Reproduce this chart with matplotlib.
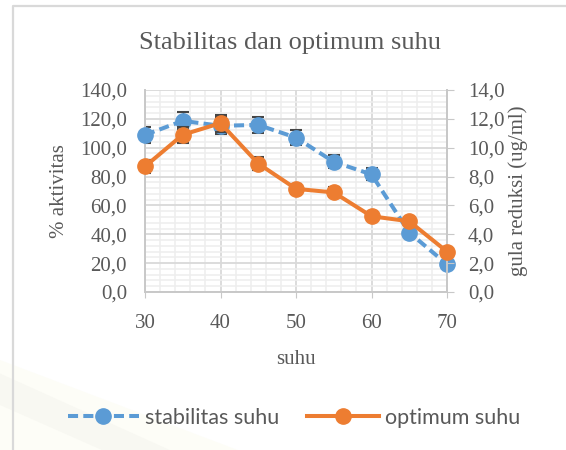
import matplotlib
matplotlib.use("Agg")
import matplotlib.pyplot as plt
from matplotlib.lines import Line2D
from matplotlib.patches import Polygon
from matplotlib.ticker import MultipleLocator, FuncFormatter

# ---- data ----
suhu = [30, 35, 40, 45, 50, 55, 60, 65, 70]
stabilitas = [108.9, 118.6, 115.2, 115.8, 107.0, 90.2, 81.5, 41.2, 19.2]
stabilitas_err = [5.4, 5.9, 5.8, 5.8, 5.4, 4.5, 4.1, 2.1, 1.0]
optimum = [8.7, 10.9, 11.7, 8.9, 7.15, 6.9, 5.25, 4.9, 2.8]
optimum_err = [0.44, 0.55, 0.59, 0.45, 0.36, 0.35, 0.26, 0.25, 0.14]
x_ticks = [30, 40, 50, 60, 70]

title = "Stabilitas dan optimum suhu"
xlabel = "suhu"
ylabel_left = "% aktivitas"
ylabel_right = "gula reduksi (ug/ml)"
legend_labels = ["stabilitas suhu", "optimum suhu"]

BLUE = "#5B9BD5"
ORANGE = "#ED7D31"
TXT = "#595959"
GRID = "#d9d9d9"
MINOR = "#eeeeee"
SERIF = "Liberation Serif"
SANS = "Lato"

W, H = 566, 450
fig = plt.figure(figsize=(W / 100, H / 100), dpi=100)
fig.patch.set_facecolor("white")

# faint watermark streaks in bottom-left
fig.patches.append(Polygon([[0, 0], [0, 0.2], [0.42, 0.0]], closed=True,
                           transform=fig.transFigure, facecolor="#fdfdf7",
                           edgecolor="none", zorder=0))
fig.patches.append(Polygon([[0, 0.1], [0, 0.17], [0.3, 0.0], [0.18, 0.0]], closed=True,
                           transform=fig.transFigure, facecolor="#f8f8f2",
                           edgecolor="none", zorder=0))
# frame
fig.add_artist(Line2D([13 / W, 13 / W, 1.0], [0.0, 1 - 6 / H, 1 - 6 / H],
                      transform=fig.transFigure, color="#d9d9d9", lw=1.6))

ax = fig.add_axes([145 / W, 1 - 292 / H, (447 - 145) / W, (292 - 90) / H])
ax.set_xlim(30, 70)
ax.set_ylim(0, 140)
ax.yaxis.set_major_locator(MultipleLocator(20))
ax.yaxis.set_minor_locator(MultipleLocator(4))
ax.xaxis.set_major_locator(MultipleLocator(10))
ax.xaxis.set_minor_locator(MultipleLocator(2))
ax.set_xticks(x_ticks)
ax.grid(which="major", color=GRID, lw=1.3, zorder=0)
ax.grid(which="minor", color=MINOR, lw=1.1, zorder=0)
ax.set_axisbelow(True)
ax.spines["top"].set_visible(False)
for s in ["left", "bottom", "right"]:
    ax.spines[s].set_color("#c8c8c8")
    ax.spines[s].set_linewidth(1.4)
fmt = FuncFormatter(lambda v, p: f"{v:.1f}".replace(".", ","))
ax.yaxis.set_major_formatter(fmt)
ax.tick_params(axis="y", which="both", length=0, pad=13, labelsize=15, labelcolor=TXT)
ax.tick_params(axis="x", which="major", length=4, color="#c8c8c8", pad=12,
               labelsize=15, labelcolor=TXT)
ax.tick_params(axis="x", which="minor", length=0)
for lab in ax.get_xticklabels() + ax.get_yticklabels():
    lab.set_family(SERIF)

ax2 = ax.twinx()
ax2.set_ylim(0, 14)
ax2.yaxis.set_major_locator(MultipleLocator(2))
ax2.yaxis.set_major_formatter(fmt)
for s in ["top", "left", "bottom"]:
    ax2.spines[s].set_visible(False)
ax2.spines["right"].set_color("#c8c8c8")
ax2.spines["right"].set_linewidth(1.4)
ax2.tick_params(axis="y", length=5, color="#c8c8c8", pad=10, labelsize=15, labelcolor=TXT)
for lab in ax2.get_yticklabels():
    lab.set_family(SERIF)

dash = (0, (2.5, 1.3))
ax.errorbar(suhu, stabilitas, yerr=stabilitas_err, fmt="none", ecolor="#454545",
            elinewidth=1.0, capsize=4.6, capthick=1.5, zorder=2)
ax.plot(suhu, stabilitas, color=BLUE, lw=2.9, linestyle=dash, marker="o",
        markersize=11, zorder=3, clip_on=False)
ax2.errorbar(suhu, optimum, yerr=optimum_err, fmt="none", ecolor="#454545",
             elinewidth=1.0, capsize=4.6, capthick=1.5, zorder=2)
ax2.plot(suhu, optimum, color=ORANGE, lw=2.9, marker="o", markersize=11, zorder=3,
         clip_on=False)

ax.set_ylabel(ylabel_left, family=SERIF, fontsize=15, color=TXT, labelpad=8)
ax2.set_ylabel(ylabel_right, family=SERIF, fontsize=15, color=TXT, labelpad=3)
ax.set_xlabel(xlabel, family=SERIF, fontsize=15, color=TXT, labelpad=12)

fig.text(290 / W, 1 - 43 / H, title, family=SERIF, fontsize=19, color=TXT,
         ha="center", va="center")

handles = [
    Line2D([], [], color=BLUE, lw=2.9, linestyle=dash, marker="o", markersize=11),
    Line2D([], [], color=ORANGE, lw=2.9, marker="o", markersize=11),
]
leg = fig.legend(handles, legend_labels, loc="center", bbox_to_anchor=(294 / W, 1 - 418 / H),
                 ncol=2, frameon=False, prop={"family": SANS, "size": 15.5},
                 handlelength=3.3, handletextpad=0.3, columnspacing=1.3)
for t in leg.get_texts():
    t.set_color(TXT)

fig.savefig("out.png", dpi=100)
